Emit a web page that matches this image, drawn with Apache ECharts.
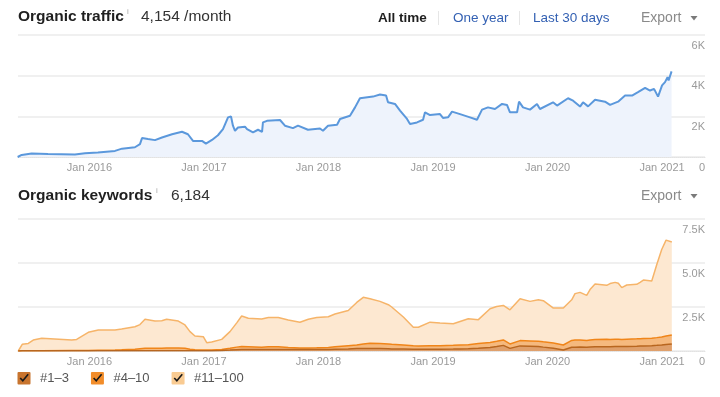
<!DOCTYPE html>
<html>
<head>
<meta charset="utf-8">
<script src="https://cdn.jsdelivr.net/npm/echarts@6/dist/echarts.min.js"></script>
<style>
html, body { margin: 0; padding: 0; background: #fff; }
#chart { width: 720px; height: 397px; }
</style>
</head>
<body>
<div id="chart"></div>
<script>
// dates are decimal years
const trafficDates = [
  2015.373, 2015.408, 2015.495, 2015.638, 2015.873, 2015.961, 2016.074, 2016.223, 2016.284, 2016.397,
  2016.441, 2016.459, 2016.511, 2016.572, 2016.633, 2016.721, 2016.808, 2016.860, 2016.904, 2016.983,
  2017.017, 2017.070, 2017.122, 2017.166, 2017.210, 2017.236, 2017.253, 2017.271, 2017.297, 2017.358,
  2017.376, 2017.428, 2017.472, 2017.507, 2017.515, 2017.550, 2017.664, 2017.707, 2017.777, 2017.821,
  2017.908, 2018.013, 2018.039, 2018.083, 2018.162, 2018.188, 2018.275, 2018.319, 2018.362, 2018.476,
  2018.537, 2018.590, 2018.607, 2018.668, 2018.712, 2018.773, 2018.799, 2018.860, 2018.913, 2018.930,
  2018.974, 2019.061, 2019.087, 2019.131, 2019.166, 2019.236, 2019.323, 2019.384, 2019.428, 2019.480,
  2019.541, 2019.603, 2019.646, 2019.672, 2019.734, 2019.751, 2019.786, 2019.847, 2019.908, 2019.934,
  2020.048, 2020.083, 2020.179, 2020.223, 2020.284, 2020.310, 2020.354, 2020.415, 2020.502, 2020.546,
  2020.616, 2020.677, 2020.738, 2020.790, 2020.852, 2020.895, 2020.930, 2020.965, 2021.000, 2021.026,
  2021.048, 2021.057, 2021.083
];
const traffic = [
  0, 100, 170, 150, 120, 180, 220, 300, 410, 480,
  630, 930, 880, 830, 960, 1120, 1240, 1120, 790, 790,
  660, 840, 1070, 1370, 1950, 2000, 1540, 1290, 1450, 1490,
  1370, 1210, 1340, 1240, 1700, 1780, 1820, 1540, 1420, 1540,
  1340, 1400, 1290, 1540, 1590, 1870, 2030, 2440, 2890, 2970,
  3070, 3020, 2690, 2610, 2280, 1870, 1620, 1700, 1830, 2200,
  2060, 2110, 1920, 1950, 2230, 2110, 1950, 1830, 2330, 2440,
  2360, 2610, 2560, 2200, 2200, 2720, 2440, 2330, 2610, 2360,
  2690, 2530, 2890, 2770, 2480, 2690, 2490, 2820, 2720, 2560,
  2720, 3020, 3020, 3190, 3400, 3270, 3350, 2970, 3520, 3680,
  3930, 3760, 4210
];

const keywordDates = [
  2015.378, 2015.413, 2015.466, 2015.509, 2015.583, 2015.845, 2015.888, 2015.990, 2016.077, 2016.223,
  2016.281, 2016.397, 2016.441, 2016.485, 2016.572, 2016.631, 2016.674, 2016.776, 2016.834, 2016.878,
  2016.921, 2016.994, 2017.024, 2017.067, 2017.155, 2017.227, 2017.286, 2017.329, 2017.387, 2017.504,
  2017.562, 2017.649, 2017.736, 2017.838, 2017.911, 2017.984, 2018.086, 2018.144, 2018.260, 2018.334,
  2018.391, 2018.450, 2018.537, 2018.610, 2018.639, 2018.741, 2018.828, 2018.872, 2018.974, 2019.061,
  2019.177, 2019.236, 2019.308, 2019.396, 2019.498, 2019.556, 2019.614, 2019.672, 2019.760, 2019.847,
  2019.920, 2019.963, 2020.051, 2020.138, 2020.211, 2020.240, 2020.284, 2020.342, 2020.371, 2020.415,
  2020.517, 2020.546, 2020.590, 2020.618, 2020.648, 2020.692, 2020.779, 2020.808, 2020.837, 2020.910,
  2020.954, 2020.997, 2021.035, 2021.085
];
const pos1to3 = [
  0, 10, 10, 10, 10, 10, 10, 10, 10, 20,
  20, 20, 20, 20, 20, 20, 20, 20, 20, 20,
  20, 20, 20, 20, 30, 50, 70, 80, 80, 80,
  80, 80, 80, 80, 80, 90, 90, 100, 120, 140,
  140, 140, 140, 130, 120, 110, 100, 100, 100, 100,
  110, 120, 130, 160, 200, 250, 320, 150, 290, 270,
  250, 220, 160, 60, 210, 220, 230, 220, 230, 240,
  240, 240, 250, 250, 250, 260, 270, 280, 280, 300,
  320, 340, 370, 400
];
const pos4to10 = [
  0, 10, 10, 10, 10, 20, 20, 20, 30, 40,
  50, 80, 110, 130, 130, 140, 150, 150, 130, 80,
  50, 40, 30, 30, 50, 100, 150, 170, 160, 140,
  160, 160, 120, 90, 90, 90, 110, 140, 180, 200,
  260, 300, 290, 270, 260, 230, 200, 190, 200, 200,
  210, 220, 230, 260, 280, 300, 310, 250, 300, 300,
  300, 300, 300, 280, 390, 410, 400, 380, 390, 410,
  430, 420, 420, 420, 410, 410, 420, 420, 430, 430,
  440, 460, 480, 510
];
const pos11to100 = [
  0, 360, 410, 600, 700, 590, 630, 1030, 1150, 1130,
  1180, 1280, 1370, 1650, 1550, 1560, 1630, 1530, 1330, 1000,
  780, 750, 420, 460, 580, 950, 1380, 1740, 1620, 1600,
  1660, 1660, 1560, 1460, 1630, 1720, 1750, 1860, 2000, 2420,
  2650, 2530, 2390, 2230, 2120, 1590, 1050, 1060, 1340, 1290,
  1230, 1340, 1470, 1360, 1920, 1980, 1960, 1940, 2380, 2250,
  2360, 2340, 1980, 2100, 2310, 2630, 2700, 2560, 2870, 3160,
  3060, 3170, 3230, 3180, 2940, 3080, 3100, 3200, 3320, 3250,
  4150, 4970, 5450, 5280
];

const yearTicks = [2016, 2017, 2018, 2019, 2020, 2021];
const keywordNames = ['#1–3', '#4–10', '#11–100'];

const FONT = '"Liberation Sans", Arial, sans-serif';
const xMin = 2015.376, xMax = 2021.375;

function pairs(xs, ys) {
  return xs.map((x, i) => [x, ys[i]]);
}

function checkbox(color) {
  const svg = '<svg xmlns="http://www.w3.org/2000/svg" width="14" height="14" viewBox="0 0 14 14">' +
    '<rect x="0.5" y="1" width="13" height="12.5" rx="1" fill="' + color + '"/>' +
    '<path d="M3.2 7 L5.8 9.8 L11.2 3.2" fill="none" stroke="#1a1a1a" stroke-width="1.6"/></svg>';
  return 'image://data:image/svg+xml;charset=utf-8,' + encodeURIComponent(svg);
}

function xAxisFor(gridIndex) {
  return {
    type: 'value', gridIndex: gridIndex, min: xMin, max: xMax,
    splitLine: { show: false },
    axisLine: { show: true, lineStyle: { color: '#e2e2e2', type: 'dotted', width: 1 } },
    axisTick: { show: true, inside: true, length: 3, customValues: yearTicks, lineStyle: { color: '#cfcfcf' } },
    axisLabel: {
      customValues: yearTicks, margin: 5, color: '#9a9a9a', fontSize: 11, fontFamily: FONT,
      formatter: v => 'Jan ' + v
    }
  };
}

function yAxisFor(gridIndex, max, step, fmt) {
  return {
    type: 'value', gridIndex: gridIndex, position: 'right', min: 0, max: max, interval: step,
    axisLine: { show: false }, axisTick: { show: false },
    splitLine: { lineStyle: { color: '#f0f0f0', width: 2 } },
    axisLabel: {
      align: 'right', verticalAlign: 'top', margin: 0, padding: [5, 0, 0, 0],
      color: '#9a9a9a', fontSize: 11, fontFamily: FONT, formatter: fmt,
      showMinLabel: true, showMaxLabel: true
    }
  };
}

function header(y, title, infoX, valueX, value) {
  return [
    { type: 'text', x: 18, y: y, style: { text: title, fill: '#1f1f1f', font: 'bold 15.5px ' + FONT, verticalAlign: 'middle' } },
    { type: 'text', x: infoX, y: y - 5, style: { text: 'i', fill: '#aaaaaa', font: '8px ' + FONT, verticalAlign: 'middle' } },
    { type: 'text', x: valueX, y: y, style: { text: value, fill: '#333333', font: '15.5px ' + FONT, verticalAlign: 'middle' } }
  ];
}

function exportButton(y) {
  return [
    { type: 'text', x: 641, y: y, style: { text: 'Export', fill: '#8a8a8a', font: '14px ' + FONT, verticalAlign: 'middle' } },
    { type: 'polygon', shape: { points: [[690.5, y - 2], [697.5, y - 2], [694, y + 2.5]] }, style: { fill: '#7a7a7a' } }
  ];
}

const tabs = [
  { type: 'text', x: 378, y: 18, style: { text: 'All time', fill: '#1f1f1f', font: 'bold 13.5px ' + FONT, verticalAlign: 'middle' } },
  { type: 'line', shape: { x1: 438.5, y1: 11, x2: 438.5, y2: 25 }, style: { stroke: '#e6e6e6', lineWidth: 1 } },
  { type: 'text', x: 453, y: 18, style: { text: 'One year', fill: '#3461b3', font: '13.5px ' + FONT, verticalAlign: 'middle' } },
  { type: 'line', shape: { x1: 519.5, y1: 11, x2: 519.5, y2: 25 }, style: { stroke: '#e6e6e6', lineWidth: 1 } },
  { type: 'text', x: 533, y: 18, style: { text: 'Last 30 days', fill: '#3461b3', font: '13.5px ' + FONT, verticalAlign: 'middle' } }
];

const lineColors = ['#b8661f', '#f08519', '#f6b469'];
const areaColors = ['#dfa06c', '#f5b97e', '#fde8d1'];
const boxColors = ['#c8742e', '#f28d2a', '#f9cb92'];

// running totals so each band sits on the ones below it
const upTo10 = pos1to3.map((v, i) => v + pos4to10[i]);
const upTo100 = upTo10.map((v, i) => v + pos11to100[i]);
const bandTops = [pos1to3, upTo10, upTo100];

function keywordSeries(i) {
  return {
    name: keywordNames[i], type: 'line', xAxisIndex: 1, yAxisIndex: 1,
    data: pairs(keywordDates, bandTops[i]), showSymbol: false, silent: true,
    lineStyle: { color: lineColors[i], width: 1.5 },
    itemStyle: { color: lineColors[i] },
    areaStyle: { color: areaColors[i], opacity: 1 }
  };
}

const chart = echarts.init(document.getElementById('chart'), null, { renderer: 'canvas' });

chart.setOption({
  animation: false,
  backgroundColor: '#ffffff',
  textStyle: { fontFamily: FONT },
  grid: [
    { left: 18, right: 15, top: 35, height: 122 },
    { left: 18, right: 15, top: 219, height: 132 }
  ],
  xAxis: [xAxisFor(0), xAxisFor(1)],
  yAxis: [
    yAxisFor(0, 6000, 2000, v => v === 0 ? '0' : v / 1000 + 'K'),
    yAxisFor(1, 7500, 2500, v => v === 0 ? '0' : (v / 1000).toFixed(1) + 'K')
  ],
  legend: {
    left: 17, top: 371, padding: 0, itemWidth: 14, itemHeight: 14, itemGap: 21.5,
    selectedMode: false,
    textStyle: { color: '#555555', fontSize: 13, fontFamily: FONT, padding: [0, 0, 0, 4] },
    data: keywordNames.map((n, i) => ({ name: n, icon: checkbox(boxColors[i]) }))
  },
  graphic: [].concat(
    header(17, 'Organic traffic', 127, 141, '4,154 /month'),
    tabs,
    exportButton(18),
    header(196, 'Organic keywords', 156, 171, '6,184'),
    exportButton(196)
  ),
  series: [
    {
      name: 'Organic traffic', type: 'line', xAxisIndex: 0, yAxisIndex: 0,
      data: pairs(trafficDates, traffic), showSymbol: false, silent: true,
      lineStyle: { color: '#5b98dc', width: 2 },
      itemStyle: { color: '#5b98dc' },
      areaStyle: { color: '#eef3fc', opacity: 1 }
    },
    // widest band first, narrower ones painted over it
    keywordSeries(2), keywordSeries(1), keywordSeries(0)
  ]
});
</script>
</body>
</html>
